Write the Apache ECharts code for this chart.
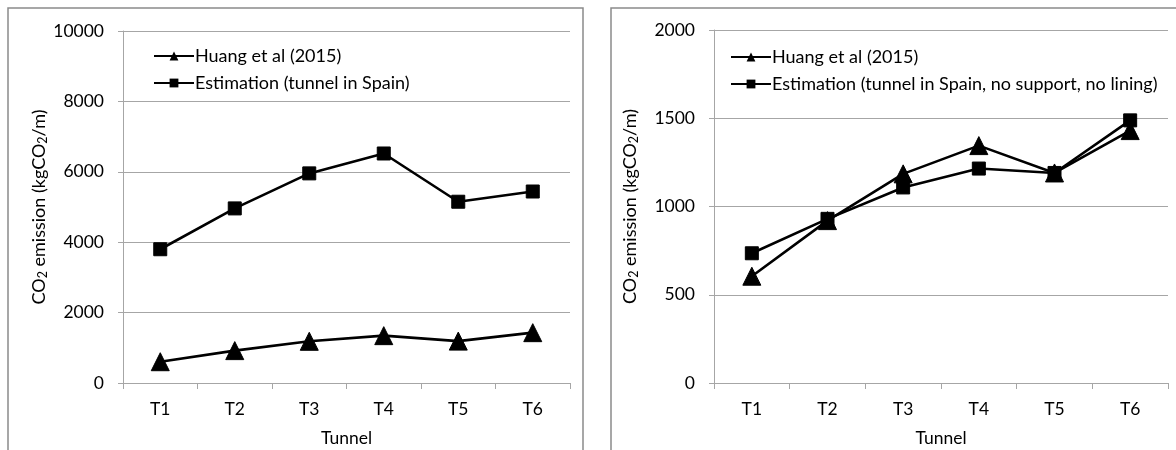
<!DOCTYPE html>
<html>
<head>
<meta charset="utf-8">
<script src="https://cdn.jsdelivr.net/npm/echarts@6/dist/echarts.min.js"></script>
<style>
  html, body { margin: 0; padding: 0; background: #fff; }
  #chart { width: 1176px; height: 450px; }
</style>
</head>
<body>
<div id="chart"></div>
<script>
// data
const tunnels = ['T1', 'T2', 'T3', 'T4', 'T5', 'T6'];
const huang = [605, 920, 1185, 1345, 1190, 1430];
const estSpain = [3800, 4960, 5955, 6520, 5150, 5440];
const estNoSupport = [735, 930, 1108, 1215, 1190, 1488];
const leftTicks = [0, 10000, 2000];   // min, max, step
const rightTicks = [0, 2000, 500];

const FONT = 'Lato';
const GRID_C = '#a6a6a6';
const yName = '{n|CO}{s|2}{n| emission (kgCO}{s|2}{n|/m)}';

function xAxis(idx) {
  return {
    type: 'category', gridIndex: idx, data: tunnels,
    name: 'Tunnel', nameLocation: 'middle', nameGap: 46,
    nameTextStyle: { color: '#000', fontSize: 17.5, fontFamily: FONT },
    axisLine: { lineStyle: { color: GRID_C, width: 1 } },
    axisTick: { show: true, alignWithLabel: false, length: 6, lineStyle: { color: GRID_C } },
    axisLabel: { color: '#000', fontSize: 17.5, fontFamily: FONT, margin: 17 },
    splitLine: { show: false }
  };
}

function yAxis(idx, t) {
  return {
    type: 'value', gridIndex: idx, min: t[0], max: t[1], interval: t[2],
    name: yName, nameLocation: 'middle', nameGap: 74, nameRotate: 90,
    nameTextStyle: {
      color: '#000', fontFamily: FONT,
      rich: {
        n: { fontSize: 18, fontFamily: FONT, color: '#000' },
        s: { fontSize: 12.5, fontFamily: FONT, color: '#000', padding: [7, 0, 0, 0] }
      }
    },
    axisLine: { show: true, lineStyle: { color: GRID_C, width: 1 } },
    axisTick: { show: true, length: 5, lineStyle: { color: GRID_C } },
    axisLabel: { color: '#000', fontSize: 17.5, fontFamily: FONT, margin: 19,
      formatter: function (v) { return String(v); } },
    splitLine: { show: true, lineStyle: { color: GRID_C, width: 1 } }
  };
}

function lineSeries(name, data, idx, symbol, size) {
  return {
    name: name, type: 'line', data: data,
    xAxisIndex: idx, yAxisIndex: idx,
    symbol: symbol, symbolSize: size, showSymbol: true,
    lineStyle: { color: '#000', width: 2.6 },
    itemStyle: { color: '#000', borderColor: '#000' },
    animation: false
  };
}

function legend(left, top, names) {
  return {
    orient: 'vertical', left: left, top: top, data: names,
    itemWidth: 40, itemHeight: 11, itemGap: 9,
    textStyle: { color: '#000', fontSize: 18, fontFamily: FONT, padding: [0, 0, 0, -4] },
    selectedMode: false
  };
}

const chart = echarts.init(document.getElementById('chart'), null, { renderer: 'canvas' });
chart.setOption({
  backgroundColor: '#fff',
  animation: false,
  graphic: [
    { type: 'rect', shape: { x: 8, y: 8, width: 575, height: 460 },
      style: { fill: 'none', stroke: '#8a8a8a', lineWidth: 1.5 }, silent: true },
    { type: 'rect', shape: { x: 611, y: 8, width: 600, height: 460 },
      style: { fill: 'none', stroke: '#8a8a8a', lineWidth: 1.5 }, silent: true }
  ],
  grid: [
    { left: 123, top: 31, width: 447, height: 352, outerBoundsMode: 'none' },
    { left: 714, top: 30, width: 454, height: 353, outerBoundsMode: 'none' }
  ],
  legend: [
    legend(148, 42, ['Huang et al (2015)', 'Estimation (tunnel in Spain)']),
    legend(725, 43, ['Huang et al (2015)', 'Estimation (tunnel in Spain, no support, no lining)'])
  ],
  xAxis: [xAxis(0), xAxis(1)],
  yAxis: [yAxis(0, leftTicks), yAxis(1, rightTicks)],
  series: [
    lineSeries('Huang et al (2015)', huang, 0, 'triangle', 18),
    lineSeries('Estimation (tunnel in Spain)', estSpain, 0, 'rect', 13),
    lineSeries('Huang et al (2015)', huang, 1, 'triangle', 18),
    lineSeries('Estimation (tunnel in Spain, no support, no lining)', estNoSupport, 1, 'rect', 13)
  ]
});
</script>
</body>
</html>
